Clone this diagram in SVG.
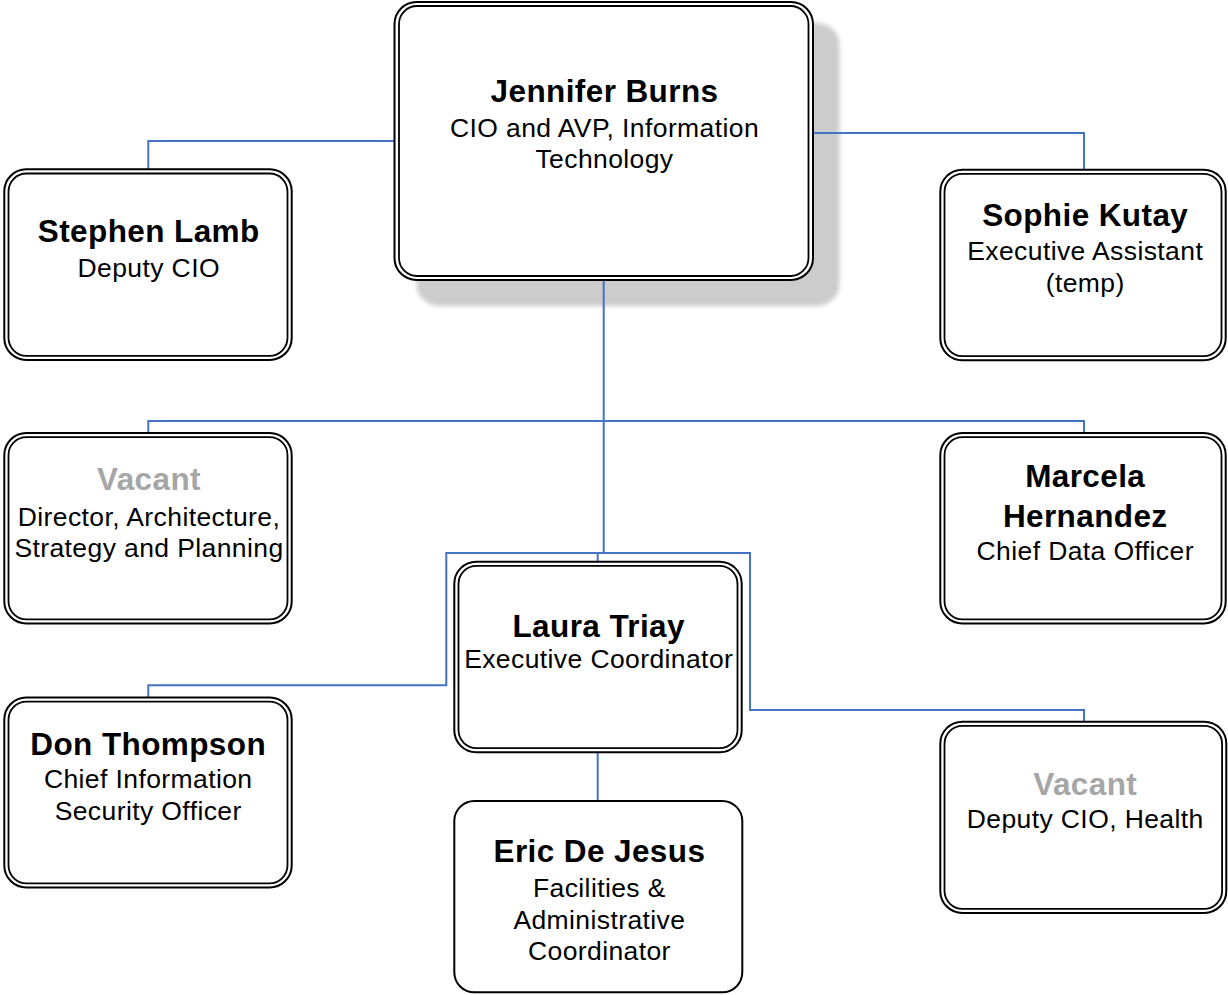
<svg xmlns="http://www.w3.org/2000/svg" width="1228" height="995" viewBox="0 0 1228 995">
  <defs>
    <filter id="soft" x="-10%" y="-10%" width="120%" height="120%">
      <feGaussianBlur stdDeviation="2"/>
    </filter>
    <style>
      .outer { fill: #ffffff; stroke: #000000; stroke-width: 2; }
      .inner { fill: #ffffff; stroke: #000000; stroke-width: 1.8; }
      .single { fill: #ffffff; stroke: #000000; stroke-width: 2; }
      .conn { fill: none; stroke: #4472c4; stroke-width: 2; }
      .name { font-family: "Liberation Sans", Arial, sans-serif; font-weight: bold; font-size: 31.5px; letter-spacing: 0.4px; fill: #000000; text-anchor: middle; }
      .vacant { fill: #a6a6a6; }
      .title { font-family: "Liberation Sans", Arial, sans-serif; font-size: 26.5px; letter-spacing: 0.4px; fill: #000000; text-anchor: middle; }
    </style>
  </defs>
  <rect width="1228" height="995" fill="#ffffff"/>

  <rect id="jennifer-shadow" x="416.5" y="23" width="423" height="283" rx="22" fill="#cccccc" filter="url(#soft)"/>

  <g id="connectors">
    <path class="conn" d="M394.5,141 H148.3 V169.3"/>
    <path class="conn" d="M813,133 H1084 V169.7"/>
    <path class="conn" d="M603.7,280 V553"/>
    <path class="conn" d="M148.3,433 V421 H1084 V433"/>
    <path class="conn" d="M148.3,697.5 V685.3 H446.3 V553 H750 V710 H1084 V721.7"/>
    <path class="conn" d="M597.7,553 V561.7"/>
    <path class="conn" d="M597.7,752.3 V801"/>
  </g>

  <g id="jennifer-burns">
    <rect class="outer" x="394.5" y="2" width="418.5" height="278" rx="22"/>
    <rect class="inner" x="399" y="6" width="409.5" height="270" rx="18"/>
    <text class="name" x="604.5" y="101.7">Jennifer Burns</text>
    <text class="title" x="604.5" y="136.7">CIO and AVP, Information</text>
    <text class="title" x="604.5" y="168.3">Technology</text>
  </g>

  <g id="stephen-lamb">
    <rect class="outer" x="4.3" y="169.3" width="287.4" height="190.7" rx="22"/>
    <rect class="inner" x="8.5" y="173.5" width="279" height="182.3" rx="18"/>
    <text class="name" x="148.7" y="242.3">Stephen Lamb</text>
    <text class="title" x="148.7" y="277.3">Deputy CIO</text>
  </g>

  <g id="sophie-kutay">
    <rect class="outer" x="940.3" y="169.7" width="285.4" height="190.6" rx="22"/>
    <rect class="inner" x="944.5" y="173.9" width="277" height="182.2" rx="18"/>
    <text class="name" x="1085.2" y="226">Sophie Kutay</text>
    <text class="title" x="1085.2" y="260">Executive Assistant</text>
    <text class="title" x="1085.2" y="292">(temp)</text>
  </g>

  <g id="vacant-director">
    <rect class="outer" x="4.3" y="433" width="287.4" height="190.5" rx="22"/>
    <rect class="inner" x="8.5" y="437.2" width="279" height="182.1" rx="18"/>
    <text class="name vacant" x="149" y="490">Vacant</text>
    <text class="title" x="149" y="525.5">Director, Architecture,</text>
    <text class="title" x="149" y="557">Strategy and Planning</text>
  </g>

  <g id="marcela-hernandez">
    <rect class="outer" x="940.3" y="433" width="285.4" height="190.5" rx="22"/>
    <rect class="inner" x="944.5" y="437.2" width="277" height="182.1" rx="18"/>
    <text class="name" x="1085.2" y="487.3">Marcela</text>
    <text class="name" x="1085.2" y="527">Hernandez</text>
    <text class="title" x="1085.2" y="560">Chief Data Officer</text>
  </g>

  <g id="laura-triay">
    <rect class="outer" x="454.3" y="561.7" width="287.4" height="190.6" rx="22"/>
    <rect class="inner" x="458.5" y="565.9" width="279" height="182.2" rx="18"/>
    <text class="name" x="598.7" y="636.7">Laura Triay</text>
    <text class="title" x="598.7" y="668.3">Executive Coordinator</text>
  </g>

  <g id="don-thompson">
    <rect class="outer" x="4.3" y="697.5" width="287.4" height="190" rx="22"/>
    <rect class="inner" x="8.5" y="701.7" width="279" height="181.6" rx="18"/>
    <text class="name" x="148.2" y="755">Don Thompson</text>
    <text class="title" x="148.2" y="788.3">Chief Information</text>
    <text class="title" x="148.2" y="820">Security Officer</text>
  </g>

  <g id="vacant-health">
    <rect class="outer" x="940.3" y="721.7" width="286" height="191.3" rx="22"/>
    <rect class="inner" x="944.5" y="725.9" width="277.6" height="182.9" rx="18"/>
    <text class="name vacant" x="1085.2" y="795">Vacant</text>
    <text class="title" x="1085.2" y="828.3">Deputy CIO, Health</text>
  </g>

  <g id="eric-de-jesus">
    <rect class="single" x="454.3" y="801" width="288" height="191.3" rx="20"/>
    <text class="name" x="599.4" y="861.7">Eric De Jesus</text>
    <text class="title" x="599.4" y="897.3">Facilities &amp;</text>
    <text class="title" x="599.4" y="929">Administrative</text>
    <text class="title" x="599.4" y="960">Coordinator</text>
  </g>
</svg>
